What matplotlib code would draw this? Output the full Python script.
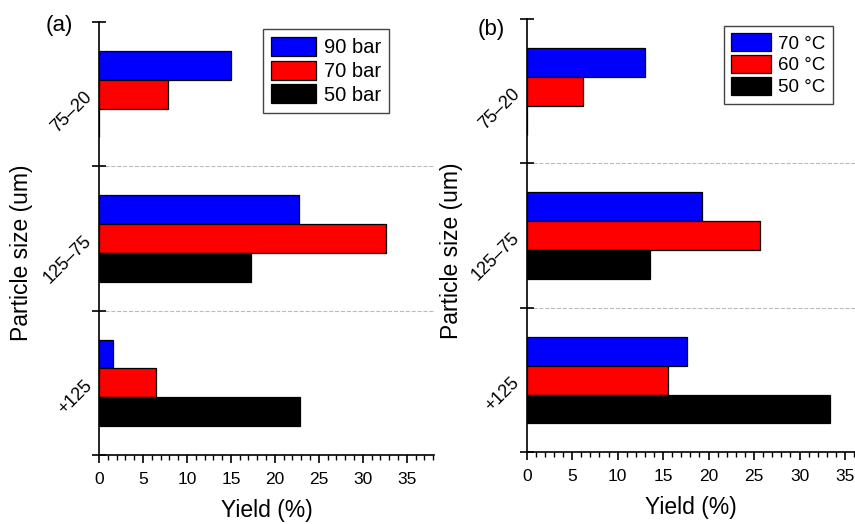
import matplotlib
matplotlib.use("Agg")
import matplotlib.pyplot as plt
import matplotlib.transforms as mtransforms
import numpy as np

plt.rcParams['font.family'] = ['Liberation Sans', 'DejaVu Sans']

# Data
categories = ['75–20', '125–75', '+125']

pressure_labels = ['90 bar', '70 bar', '50 bar']
yield_90bar = [15.0, 22.8, 1.6]
yield_70bar = [7.8, 32.6, 6.5]
yield_50bar = [0.0, 17.3, 22.9]

temp_labels = ['70 °C', '60 °C', '50 °C']
yield_70C = [13.0, 19.3, 17.6]
yield_60C = [6.2, 25.7, 15.5]
yield_50C = [0.0, 13.6, 33.4]

bar_colors = ['#0000ff', '#ff0000', '#000000']


def draw_panel(fig, ax, series, labels, xmax, legend_fontsize, legend_anchor,
               handlelength, handleheight):
    y = np.arange(len(categories))
    bar_h = 0.2
    for i, (vals, lab) in enumerate(zip(series, labels)):
        ax.barh(y + (i - 1) * bar_h, vals, height=bar_h, color=bar_colors[i],
                edgecolor='black', linewidth=0.9, label=lab, zorder=3)

    ax.set_ylim(len(categories) - 0.5, -0.5)
    ax.set_xlim(0, xmax)

    # Category boundaries as major ticks, labels on minor ticks
    bounds = np.arange(len(categories) + 1) - 0.5
    ax.set_yticks(bounds)
    ax.set_yticklabels([''] * len(bounds))
    ax.set_yticks(y, minor=True)
    ax.set_yticklabels(categories, minor=True, rotation=45, fontsize=13,
                       ha='right', va='center', rotation_mode='anchor')
    offset = mtransforms.ScaledTranslation(0, -5 / 100, fig.dpi_scale_trans)
    for lbl in ax.get_yticklabels(minor=True):
        lbl.set_transform(lbl.get_transform() + offset)
    ax.tick_params(axis='y', which='major', direction='inout', length=10, width=1.2)
    ax.tick_params(axis='y', which='minor', direction='in', length=3, width=1.0, pad=7)

    ax.set_xticks(np.arange(0, 36, 5))
    ax.set_xticks(np.arange(0, int(xmax) + 1, 1), minor=True)
    ax.tick_params(axis='x', which='major', direction='out', length=6, width=1.2,
                   labelsize=12.5, pad=6)
    ax.tick_params(axis='x', which='minor', direction='out', length=3.5, width=1.0)

    # Dashed separators between size classes
    for b in bounds[1:-1]:
        ax.axhline(b, color='#bbbbbb', linestyle='--', linewidth=0.8, zorder=1)

    for side in ['top', 'right']:
        ax.spines[side].set_visible(False)
    for side in ['left', 'bottom']:
        ax.spines[side].set_linewidth(1.2)

    ax.set_xlabel('Yield (%)', fontsize=16.5, labelpad=9)
    ax.set_ylabel('Particle size (um)', fontsize=16.5)

    leg = ax.legend(loc='upper left', bbox_to_anchor=legend_anchor, borderaxespad=0,
                    fontsize=legend_fontsize, fancybox=False, edgecolor='#444444',
                    framealpha=1, handlelength=handlelength, handleheight=handleheight,
                    labelspacing=0.15, handletextpad=0.4, borderpad=0.4)
    leg.get_frame().set_linewidth(1.0)


fig = plt.figure(figsize=(8.55, 5.24), dpi=100)
ax_a = fig.add_axes([99 / 855, 1 - 455 / 524, 335 / 855, 433 / 524])
ax_b = fig.add_axes([526.7 / 855, 1 - 452.3 / 524, 328.3 / 855, 433.3 / 524])

draw_panel(fig, ax_a, [yield_90bar, yield_70bar, yield_50bar], pressure_labels,
           38.1, 14.5, (0.49, 0.984), 2.2, 1.1)
draw_panel(fig, ax_b, [yield_70C, yield_60C, yield_50C], temp_labels,
           36.1, 13.5, (0.60, 0.984), 2.1, 1.05)

ax_a.yaxis.set_label_coords(-0.197, 0.468)
ax_b.yaxis.set_label_coords(-0.194, 0.465)

fig.text(59 / 855, 1 - 25 / 524, '(a)', fontsize=16, ha='center', va='center')
fig.text(491 / 855, 1 - 30 / 524, '(b)', fontsize=16, ha='center', va='center')

fig.savefig('out.png', dpi=100)
plt.close(fig)
